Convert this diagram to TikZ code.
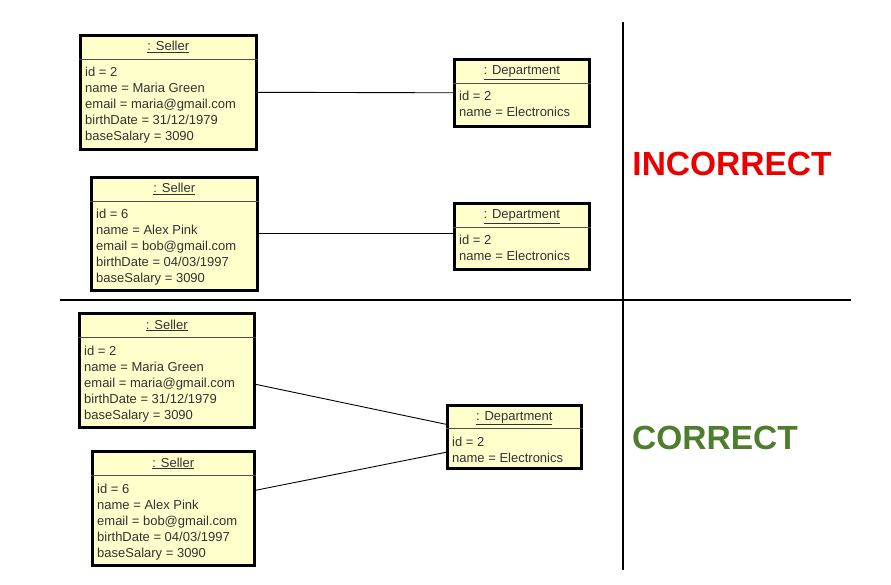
\documentclass[tikz,border=0pt]{standalone}
\usepackage{fontspec}
\setmainfont{Liberation Sans}
\definecolor{objfill}{RGB}{255,255,204}
\definecolor{objtext}{RGB}{50,50,50}
\definecolor{badred}{RGB}{235,0,0}
\definecolor{goodgreen}{RGB}{78,125,46}
\tikzset{
  objbox/.style={draw=black, line width=2.6pt, fill=objfill, rectangle, inner sep=0pt},
  objsep/.style={draw=black!70, line width=0.8pt},
  objtitle/.style={inner sep=0pt, text=objtext, font=\fontsize{13}{16}\selectfont},
  objattr/.style={inner sep=0pt, text=objtext, font=\fontsize{13}{16}\selectfont},
  assoc/.style={draw=black, line width=0.9pt},
  divider/.style={draw=black, line width=1.1pt},
  verdict/.style={inner sep=0pt, font=\fontsize{33.5}{36}\selectfont\bfseries}
}
% #1 name, #2 left, #3 top, #4 width, #5 height, #6 header height, #7 title, #8 attribute lines
\newcommand{\umlobj}[8]{%
  \node[objbox, minimum width=#4pt, minimum height=#5pt, anchor=north west] (#1) at (#2,#3) {};
  \draw[objsep] ([yshift=-#6pt]#1.north west) -- ([yshift=-#6pt]#1.north east);
  \node[objtitle, anchor=base] (#1-t) at ([yshift={-0.68*#6pt}]#1.north) {\underline{#7}};
  \node[objattr, anchor=base west] (#1-a) at ([xshift=6pt, yshift={-(#6pt+18pt)}]#1.north west)
    {\fontsize{13}{16}\selectfont\begin{tabular}[t]{@{}l@{}}#8\end{tabular}};
}
\begin{document}
\begin{tikzpicture}[x=1pt, y=-1pt]
\useasboundingbox (0,0) rectangle (891,585);

% dividers
\coordinate (vtop) at (623,22);
\coordinate (vbot) at (623,570);
\coordinate (hleft) at (60,300);
\coordinate (hright) at (851,300);
\draw[divider] (vtop) -- (vbot);
\draw[divider] (hleft) -- (hright);

% INCORRECT half
\umlobj{s1}{79}{34}{176}{114}{25}{: Seller}{id = 2\\ name = Maria Green\\ email = maria@gmail.com\\ birthDate = 31/12/1979\\ baseSalary = 3090}
\umlobj{d1}{453}{58}{135}{67}{25}{: Department}{id = 2\\ name = Electronics}
\umlobj{s2}{90}{176}{166}{113}{25}{: Seller}{id = 6\\ name = Alex Pink\\ email = bob@gmail.com\\ birthDate = 04/03/1997\\ baseSalary = 3090}
\umlobj{d2}{453}{202}{135}{66}{25}{: Department}{id = 2\\ name = Electronics}

\draw[assoc] (s1.east) -- (d1.west);
\draw[assoc] (s2.east) -- (s2.east -| d2.west);

\node[verdict, text=badred] (bad) at (732,163.5) {INCORRECT};

% CORRECT half
\umlobj{s3}{78}{312}{175}{114}{25}{: Seller}{id = 2\\ name = Maria Green\\ email = maria@gmail.com\\ birthDate = 31/12/1979\\ baseSalary = 3090}
\umlobj{s4}{91}{450}{162}{114}{25}{: Seller}{id = 6\\ name = Alex Pink\\ email = bob@gmail.com\\ birthDate = 04/03/1997\\ baseSalary = 3090}
\umlobj{d3}{446}{404}{134}{63}{24}{: Department}{id = 2\\ name = Electronics}

\draw[assoc] ([yshift=-14pt]s3.east) -- ([yshift=12.5pt]d3.west);
\draw[assoc] ([yshift=18pt]s4.east) -- ([yshift=-15.5pt]d3.west);

\node[verdict, text=goodgreen] (good) at (715,437.5) {CORRECT};
\end{tikzpicture}
\end{document}
